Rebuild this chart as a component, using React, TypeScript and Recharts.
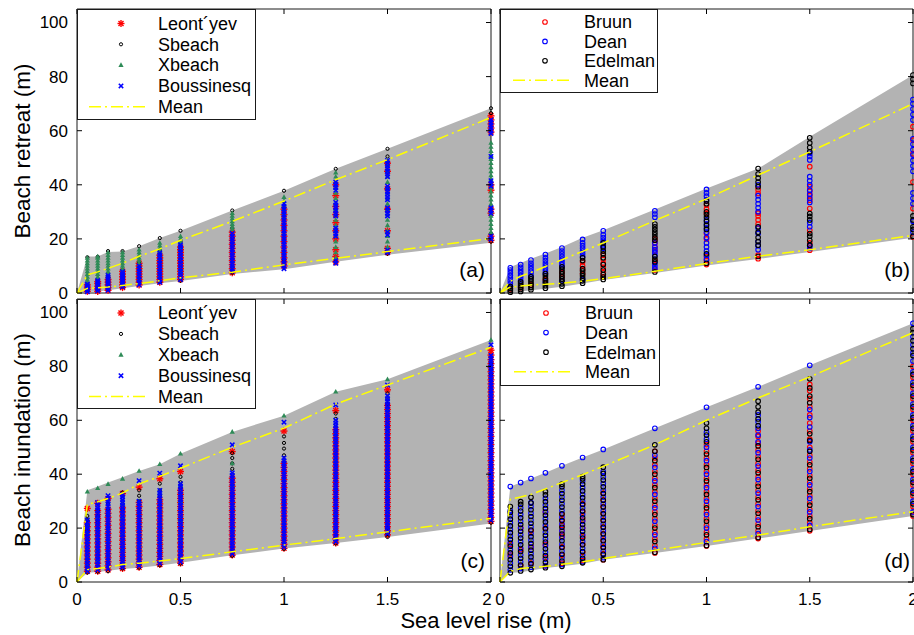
import React from "react";
import { Area, ComposedChart, Line, ReferenceArea, Scatter, XAxis, YAxis } from "recharts";

const FONT = '"Liberation Sans", Arial, Helvetica, sans-serif';
const RED = "#ff0000";
const BLUE = "#0000ff";
const GREEN = "#2e8b57";
const BLACK = "#000000";
const YELLOW = "#ffff00";
const GREY = "#b3b3b3";
const MEAN_DASH = "12 4 2 4";

// sea level rise scenarios (m)
const SLR = [0.05, 0.1, 0.15, 0.22, 0.3, 0.4, 0.5, 0.75, 1, 1.25, 1.5, 2];
const BAND_SLR = [0, ...SLR];
const X_TICKS = [0, 0.5, 1, 1.5, 2];
const Y_TICKS = [0, 20, 40, 60, 80, 100];

// (a) beach retreat, process models
const A_HIGH = [0, 13.5, 13.5, 15.2, 15.3, 17.3, 20.3, 23, 30.5, 37.8, 45.9, 53.3, 68.3];
const A_LOW = [0, 0.4, 0.6, 1, 1.8, 2.6, 3.6, 4.4, 7, 8.8, 11.6, 14.1, 18.6];
const A_MEAN_HI = [0, 6.7, 7.8, 9.1, 11, 13.6, 16.3, 19.5, 26.5, 34, 41.9, 49.3, 64.9];
const A_MEAN_LO = [0, 1.7, 1.9, 2.2, 2.8, 3.5, 4.5, 5.6, 7.7, 10.4, 12.8, 15.3, 20.2];

const A_LEONTYEV = [
  [0.6, 1.4, 2.2, 3],
  [0.6, 1.5, 2.5, 3.5, 4.2],
  [1, 2, 3, 4, 5],
  [2, 3, 4, 5, 6, 7, 8],
  [3, 4, 5, 6, 7, 8, 9, 10, 11],
  [4, 5, 6, 7, 8, 9, 10, 11, 12, 13, 14],
  [5, 6, 7, 8, 9, 10, 11, 12, 13, 14, 15, 16, 17],
  [7.5, 9, 10.5, 12, 13.5, 15, 16.5, 18, 19.5, 21, 22.5],
  [10, 11.5, 13, 15, 17, 19, 21, 23, 25, 27, 29, 31],
  [11.5, 13.5, 16, 20, 23, 26, 29, 32, 36, 40],
  [15, 16.5, 23, 31, 38.5, 45, 48],
  [19.5, 21, 29.5, 31, 38, 40, 59.5, 61, 62.5, 64, 65.5],
];
const A_SBEACH = [
  [0.8, 2, 13.2],
  [1, 13.4],
  [1.5, 6, 15.5],
  [2.5, 8.5, 15.5],
  [3.5, 11.5, 17.3],
  [4, 15.5, 20.3],
  [4.5, 19, 23],
  [7.5, 24, 30.5],
  [11.5, 12.5, 37.8],
  [11.5, 45.9],
  [14.5, 50.5, 53.3],
  [19, 22, 66.5, 68.3],
];
const A_XBEACH = [
  [1.5, 3, 4, 5, 6, 7, 8, 9, 10, 11, 12, 13],
  [2, 3.5, 5, 6, 7, 8, 9, 10, 11, 12, 13, 13.5],
  [3, 4.5, 6, 7, 8, 9, 10, 11, 12, 13, 14, 15],
  [4, 6, 7, 8, 9, 10, 11, 12, 13, 14, 15],
  [5, 10, 11, 12, 13, 14, 15, 16],
  [6, 13, 14.5, 15.5, 16.5, 17.5, 18.5],
  [8, 16, 17, 18, 19, 20, 21],
  [10, 23.5, 24.5, 25.5, 26.5, 27.5, 28.5, 29.5],
  [15, 22, 28, 29.5, 31, 32.5, 34, 35.5],
  [13, 15, 17, 19, 21, 23, 25, 27, 29, 31, 33, 35, 37, 39, 41, 43, 44.5],
  [17, 19, 21, 23, 25, 27, 29, 31, 33, 35, 37, 39, 41, 43, 45, 47, 49],
  [22.5, 24, 25.5, 27, 28.5, 30, 31.5, 33, 34.5, 36, 37.5, 39, 40.5, 42, 43.5, 45, 46.5, 48, 49.5, 51, 52.5, 54, 55.5],
];
const A_BOUSSINESQ = [
  [0.5, 1.2, 1.9, 2.6, 3.3],
  [0.8, 1.6, 2.4, 3.2, 4, 4.6],
  [1, 1.8, 2.6, 3.4, 4.2, 5, 5.8, 6.5],
  [2.3, 3.1, 3.9, 4.7, 5.5, 6.3, 7.1, 7.9],
  [3, 4, 5, 6, 7, 8, 9, 10],
  [4, 5, 6, 7, 8, 9, 10, 11, 12, 13, 14, 14.8],
  [5, 6, 7, 8, 9, 10, 11, 12, 13, 14, 15, 16, 17, 17.8],
  [8, 9, 10, 11, 12, 13, 14, 15, 16, 17, 18, 19, 20, 21, 22],
  [9, 10, 11, 12, 13, 14, 15, 16, 17, 18, 19, 20, 21, 22, 23, 24, 25, 26, 27, 28, 29, 30, 31, 32, 33],
  [11, 12, 21, 22, 23, 24, 28.5, 29.5, 30.5, 31.5, 32.5, 33.5, 38, 39, 40, 41],
  [15, 15.8, 21.5, 22.5, 28.5, 29.5, 30.5, 31.5, 34.5, 35.5, 36.5, 37.5, 38.5, 39.5, 43, 44, 45, 46, 47, 48, 49],
  [20, 21, 29.5, 30.5, 31.5, 39.5, 40.5, 41.5, 50.5, 59, 60, 61, 62, 63, 64],
];

// (b) beach retreat, equilibrium models
const B_HIGH = [0, 9.6, 11.1, 12.7, 14.6, 17, 20.4, 23.2, 30.9, 38.6, 46, 57.8, 80.6];
const B_LOW = [0, 0.3, 0.6, 1, 1.6, 2.3, 3.5, 4.8, 7.4, 10.2, 12.6, 15.2, 20.4];
const B_MEAN_HI = [0, 4.3, 6.2, 7.6, 9.8, 12.3, 15.4, 18.5, 26.8, 34.8, 43.6, 52.2, 70];
const B_MEAN_LO = [0, 2.2, 2.6, 3, 3.2, 3.6, 4.4, 5.3, 8, 10.9, 13.6, 16, 21.3];

const B_BRUUN = [
  [1.5],
  [2],
  [3],
  [5],
  [6, 7.5],
  [7, 8.5, 10, 11.5],
  [6, 7.5, 9.5, 11, 12.5, 14],
  [8.5, 12, 15.5, 17, 18.5, 20],
  [10.5, 12, 13.5, 20, 22, 29.5, 31, 32.5],
  [12.7, 14, 25.5, 27, 28.5, 29.5, 36.8, 38.2],
  [15.8, 18.5, 23.2, 31.2, 34.3, 36, 37.6, 39.3, 46.7],
  [20.7, 31.2, 41, 51.5, 56.5, 61.5],
];
const B_DEAN = [
  [2.5, 3.5, 4.5, 5.5, 6.5, 7.5, 8.5, 9.3],
  [4.5, 5.5, 6.5, 7.5, 8.5, 9.5, 10.5],
  [6, 7, 8, 9, 10, 11, 12.2],
  [4, 7, 8, 9, 10, 11, 12, 13, 14.2],
  [4.5, 9.5, 10.5, 11.5, 12.5, 13.5, 14.5, 15.5, 16.6],
  [5, 13.5, 14.5, 15.5, 16.5, 17.5, 18.5, 19.8],
  [16.5, 17.5, 18.5, 19.5, 20.5, 21.5, 23],
  [9, 10, 11, 14, 15, 16, 17, 18.5, 28, 29.2, 30.4],
  [12.5, 14, 15.5, 17, 18.5, 20.5, 22.5, 24, 25.5, 27, 34.5, 35.8, 37, 38.3],
  [16, 17.5, 19, 22, 24, 30, 31.5, 33, 34.5, 36, 40],
  [16.5, 17.5, 24.5, 26, 33.5, 35, 36.5, 38, 40, 41.5, 43, 49.2, 50.5, 51.6],
  [22.5, 26.5, 33, 35, 37, 45, 47, 49, 51, 53, 55, 57, 64, 66, 68, 70, 71.5],
];
const B_EDELMAN = [
  [0.3, 1, 1.7, 2.4],
  [0.6, 1.3, 2, 2.7, 3.4, 4.1],
  [1.2, 2, 2.8, 3.6, 4.4, 5.2, 6],
  [1.8, 2.7, 3.6, 4.5, 5.4, 6.3, 7.2],
  [2.5, 3.4, 4.3, 5.2, 6.1, 7, 7.9, 8.8, 9.7],
  [3.6, 4.5, 5.4, 6.3, 7.2, 8.1, 9, 12, 13],
  [5, 5.9, 6.8, 8.5, 10.5, 13, 14.5, 15.5, 17, 18.5],
  [7.8, 11.5, 12.5, 13.5, 19.5, 20.5, 21.5, 22.5, 23.5, 24.5, 25.5],
  [11, 14.5, 23.5, 25, 26.5, 28, 29, 30, 33, 34],
  [13.5, 17.7, 19, 20.5, 22.5, 24.5, 39.3, 41, 42.5, 44, 46],
  [17.7, 19.5, 21, 22, 27, 28.3, 29.4, 52.2, 53.8, 55.5, 57.4],
  [21, 23.5, 24.5, 27, 28.5, 77.5, 79, 80.6],
];

// (c) beach inundation, process models
const C_HIGH = [0, 34, 35.4, 36.9, 38.9, 41.2, 43.7, 47.6, 55.7, 61.7, 70.6, 75.2, 89.8];
const C_LOW = [0, 3.4, 3.7, 4.2, 4.8, 5.3, 6.1, 7.1, 9.9, 12.4, 14.5, 16.7, 21.7];
const C_MEAN_HI = [0, 28.8, 29.8, 31, 33, 36.4, 39.2, 42.2, 50, 57.1, 66, 73.1, 87.1];
const C_MEAN_LO = [0, 4.6, 5, 5.5, 6.5, 7, 7.8, 8.7, 11.2, 13.7, 16.1, 18.6, 23.6];

const C_LEONTYEV = [
  [4, 5.5, 7, 8.5, 10, 11.5, 13, 14.5, 16, 17.5, 19, 20.5, 22, 27.3],
  [4, 5.5, 7, 8.5, 10, 11.5, 13, 14.5, 16, 17.5, 19, 20.5, 22, 23.5, 25, 26.5, 29.2],
  [4.5, 6, 7.5, 9, 10.5, 12, 13.5, 15, 16.5, 18, 19.5, 21, 22.5, 24, 25.5, 27, 31],
  [5, 6.5, 8, 9.5, 11, 12.5, 14, 15.5, 17, 18.5, 20, 21.5, 23, 24.5, 26, 27.5, 32.8],
  [5.5, 7, 8.5, 10, 11.5, 13, 14.5, 16, 17.5, 19, 20.5, 22, 23.5, 25, 26.5, 28, 29.5, 35.2],
  [6.5, 8, 9.5, 11, 12.5, 14, 15.5, 17, 18.5, 20, 21.5, 23, 24.5, 26, 27.5, 29, 30.5, 38.3],
  [7, 8.5, 10, 11.5, 13, 14.5, 16, 17.5, 19, 20.5, 22, 23.5, 25, 26.5, 28, 29.5, 31, 32.5, 34, 41],
  [10, 11.5, 13, 14.5, 16, 17.5, 19, 20.5, 22, 23.5, 25, 26.5, 28, 29.5, 31, 32.5, 34, 35.5, 37, 38.5, 48.4],
  [12.5, 14, 15.5, 17, 18.5, 20, 21.5, 23, 24.5, 26, 27.5, 29, 30.5, 32, 33.5, 35, 36.5, 38, 39.5, 41, 42.5, 44, 56],
  [14.5, 16, 17.5, 19, 20.5, 22, 23.5, 25, 26.5, 28, 29.5, 31, 32.5, 34, 35.5, 37, 38.5, 40, 41.5, 43, 44.5, 46, 47.5, 49, 50.5, 52, 53.5, 55, 56.5, 63.6],
  [17.5, 19, 20.5, 22, 23.5, 25, 26.5, 28, 29.5, 31, 32.5, 34, 35.5, 37, 38.5, 40, 41.5, 43, 44.5, 46, 47.5, 49, 50.5, 52, 53.5, 55, 56.5, 58, 59.5, 61, 62.5, 64, 65.5, 71.3],
  [22.5, 24, 25.5, 27, 28.5, 30, 31.5, 33, 34.5, 36, 37.5, 39, 40.5, 42, 43.5, 45, 46.5, 48, 49.5, 51, 52.5, 54, 55.5, 57, 58.5, 60, 61.5, 63, 64.5, 66, 67.5, 69, 70.5, 72, 73.5, 75, 76.5, 78, 79.5, 81, 82.5, 84.2, 86],
];
const C_SBEACH = [
  [3.5, 19, 21, 23, 24.5],
  [3.8, 22, 24.5, 26.5],
  [4, 25, 27, 29],
  [5, 27, 29, 31, 33.2],
  [5.3, 30, 32, 34],
  [6.2, 32, 34, 36.5],
  [6.8, 35, 37, 39],
  [9.7, 40, 42, 44, 46, 47.8],
  [12.3, 47, 49.5, 51.6, 54],
  [14.3, 58.5, 60.5, 62.5],
  [16.7, 18, 20, 66, 68, 70],
  [22, 23.5, 77, 79, 81],
];
const C_XBEACH = [
  [6, 9, 12, 15, 18, 21, 33.5],
  [8, 12, 16, 20, 24, 34.8],
  [10, 15, 20, 25, 36.3],
  [12, 18, 24, 29, 38.3],
  [14, 20, 26, 30, 41.2],
  [15, 21, 27, 33, 43.7],
  [16, 23, 30, 36, 47.6],
  [20, 28, 36, 44, 55.7],
  [22, 30, 38, 45, 61.7],
  [25, 35, 45, 55, 70.6],
  [26, 36, 46, 56, 64, 75.2],
  [30, 40, 50, 60, 70, 80, 89.8],
];
const C_BOUSSINESQ = [
  [4, 5, 6, 7, 8, 9, 10, 11, 12, 13, 14, 15, 16, 17, 18, 19, 20, 21, 22, 23],
  [4.5, 5.5, 6.5, 7.5, 8.5, 9.5, 10.5, 11.5, 12.5, 13.5, 14.5, 15.5, 16.5, 17.5, 18.5, 19.5, 20.5, 21.5, 22.5, 23.5, 24.5, 25.5, 26.5, 27.5, 28.5, 29.5],
  [5, 6, 7, 8, 9, 10, 11, 12, 13, 14, 15, 16, 17, 18, 19, 20, 21, 22, 23, 24, 25, 26, 27, 28, 29, 30, 31, 32],
  [5.5, 6.5, 7.5, 8.5, 9.5, 10.5, 11.5, 12.5, 13.5, 14.5, 15.5, 16.5, 17.5, 18.5, 19.5, 20.5, 21.5, 22.5, 23.5, 24.5, 25.5, 26.5, 27.5, 28.5, 29.5, 30.5, 31.5, 32.5],
  [6, 7, 8, 9, 10, 11, 12, 13, 14, 15, 16, 17, 18, 19, 20, 21, 22, 23, 24, 25, 26, 27, 28, 29, 30, 37.6],
  [7, 8, 9, 10, 11, 12, 13, 14, 15, 16, 17, 18, 19, 20, 21, 22, 23, 24, 25, 26, 27, 28, 29, 30, 31, 32, 33, 34, 40.4],
  [7.5, 8.5, 9.5, 10.5, 11.5, 12.5, 13.5, 14.5, 15.5, 16.5, 17.5, 18.5, 19.5, 20.5, 21.5, 22.5, 23.5, 24.5, 25.5, 26.5, 27.5, 28.5, 29.5, 30.5, 31.5, 32.5, 33.5, 34.5, 35.5, 36.5, 43.1],
  [10.5, 11.5, 12.5, 13.5, 14.5, 15.5, 16.5, 17.5, 18.5, 19.5, 20.5, 21.5, 22.5, 23.5, 24.5, 25.5, 26.5, 27.5, 28.5, 29.5, 30.5, 31.5, 32.5, 33.5, 34.5, 35.5, 36.5, 37.5, 38.5, 39.5, 40.5, 50.9],
  [13, 14, 15, 16, 17, 18, 19, 20, 21, 22, 23, 24, 25, 26, 27, 28, 29, 30, 31, 32, 33, 34, 35, 36, 37, 38, 39, 40, 41, 42, 43, 44, 45, 46, 59.3],
  [15, 16, 17, 18, 19, 20, 21, 22, 23, 24, 25, 26, 27, 28, 29, 30, 31, 32, 33, 34, 35, 36, 37, 38, 39, 40, 41, 42, 43, 44, 45, 46, 47, 48, 49, 50, 51, 52, 53, 54, 55, 56, 57, 58, 59, 60, 65.7],
  [18, 19, 20, 21, 22, 23, 24, 25, 26, 27, 28, 29, 30, 31, 32, 33, 34, 35, 36, 37, 38, 39, 40, 41, 42, 43, 44, 45, 46, 47, 48, 49, 50, 51, 52, 53, 54, 55, 56, 57, 58, 59, 60, 61, 62, 63, 64, 65, 66, 67, 68, 69, 73.1],
  [23, 24, 25, 26, 27, 28, 29, 30, 31, 32, 33, 34, 35, 36, 37, 38, 39, 40, 41, 42, 43, 44, 45, 46, 47, 48, 49, 50, 51, 52, 53, 54, 55, 56, 57, 58, 59, 60, 61, 62, 63, 64, 65, 66, 67, 68, 69, 70, 71, 72, 73, 74, 75, 76, 77, 78, 79, 80, 81, 82, 83, 84, 88],
];

// (d) beach inundation, equilibrium models
const D_HIGH = [0, 35.4, 36.9, 38.4, 40.5, 43.1, 46.2, 49.2, 57, 64.8, 72.4, 80.4, 96];
const D_LOW = [0, 3.4, 3.6, 4.3, 5.2, 5.8, 6.8, 8.3, 10.8, 13.4, 16.1, 18.9, 24.5];
const D_MEAN_HI = [0, 30.7, 31.5, 32.5, 34.5, 36.9, 39.8, 42.9, 50.9, 60, 68.3, 76.1, 92.5];
const D_MEAN_LO = [0, 4, 5, 5.3, 5.8, 6.6, 7.5, 8.7, 11.8, 14.7, 17.4, 20.5, 26.1];

const D_BRUUN = [
  [10, 14],
  [6, 12, 20],
  [7, 13, 19],
  [6, 9, 14, 20, 26],
  [7, 10, 13, 17, 19, 21, 23, 25],
  [8, 11, 14, 17, 20, 23, 26, 29],
  [8.3, 10.5, 13, 15.5, 18, 20.5, 23, 25.5, 28, 30.5, 33],
  [10.8, 13.5, 16, 18.5, 21, 23.5, 26, 28.5, 31, 33.5, 36, 38.5, 41, 43.5, 46, 48.5],
  [13.4, 16, 18.5, 21, 23.5, 26, 28.5, 31, 33.5, 36, 38.5, 41, 43.5, 46, 48.5, 51],
  [16.1, 19, 21.5, 24, 26.5, 29, 31.5, 34, 36.5, 39, 41.5, 44, 46.5, 49, 51.5, 54, 56],
  [19, 22, 24.5, 27, 29.5, 32, 34.5, 37, 39.5, 42, 44.5, 47, 50, 53, 56, 59, 62, 65, 68, 71, 73.3],
  [24.5, 28, 32, 36, 40, 44, 48, 52, 56, 60, 64, 68, 72, 76, 80],
];
const D_DEAN = [
  [4.5, 7, 9.5, 12, 14.5, 17, 19.5, 22, 24.5, 26.5, 35.4],
  [5, 7.5, 10, 12.5, 15, 17.5, 20, 22.5, 25, 27.5, 36.9],
  [5.5, 8, 10.5, 13, 15.5, 18, 20.5, 23, 25.5, 28, 29.5, 38.4],
  [6, 8.5, 11, 13.5, 16, 18.5, 21, 23.5, 26, 28.5, 31, 40.5],
  [6.5, 9, 11.5, 14, 16.5, 19, 21.5, 24, 26.5, 29, 31.5, 34, 43.1],
  [7.5, 10, 12.5, 15, 17.5, 20, 22.5, 25, 27.5, 30, 32.5, 35, 37.5, 46.2],
  [9, 11.5, 14, 16.5, 19, 21.5, 24, 26.5, 29, 31.5, 34, 36.5, 39, 41, 49.2],
  [12.5, 17.5, 22.5, 27.5, 32.5, 37.5, 42.5, 47, 57],
  [15, 20, 25, 30, 35, 40, 45, 50, 53, 55.5, 64.8],
  [18, 23, 28, 33, 38, 43, 48, 52, 54.5, 57, 59.5, 62, 72.4],
  [21, 26, 31, 36, 41, 46, 49, 52, 57.5, 61, 64, 80.4],
  [26, 30, 34, 38, 42, 46, 50, 54, 58, 62, 66, 70, 74, 78, 82, 85, 88, 91, 96],
];
const D_EDELMAN = [
  [3.4, 5.8, 8.3, 10.8, 13.3, 15.8, 18.3, 20.8, 23.3, 25.8, 28],
  [4.1, 6.3, 8.8, 11.3, 13.8, 16.3, 18.8, 21.3, 23.8, 26.3, 28.8, 29.8],
  [4.6, 6.8, 9.3, 11.8, 14.3, 16.8, 19.3, 21.8, 24.3, 26.8, 29.3, 31.4],
  [5.3, 7.3, 9.8, 12.3, 14.8, 17.3, 19.8, 22.3, 24.8, 27.3, 29.8, 32.3, 33.5],
  [5.8, 7.8, 10.3, 12.8, 15.3, 17.8, 20.3, 22.8, 25.3, 27.8, 30.3, 32.8, 35.3, 36.3],
  [7.1, 8.8, 11.3, 13.8, 16.3, 18.8, 21.3, 23.8, 26.3, 28.8, 31.3, 33.8, 36.3, 38.3, 39.1],
  [8.3, 10.3, 12.8, 15.3, 17.8, 20.3, 22.8, 25.3, 27.8, 30.3, 32.8, 35.3, 37.8, 40.3, 42.6],
  [11, 15, 20, 25, 30, 35, 40, 45, 48.5, 50.9],
  [13.5, 17.5, 22.5, 27.5, 32.5, 37.5, 42.5, 47.5, 52, 54.5, 57, 59],
  [16.5, 20.5, 25.5, 30.5, 35.5, 40.5, 45.5, 50.5, 58, 60.5, 63, 65, 67.1],
  [19.5, 23.5, 28.5, 33.5, 38.5, 43.5, 48.5, 52.5, 55, 66.5, 69, 72, 75.4],
  [25, 29, 33, 37, 41, 45, 49, 53, 57, 61, 65, 69, 73, 77, 84, 86.5, 89.5, 92.5, 94],
];

type Mark = { cx?: number; cy?: number };

function StarMark({ cx = 0, cy = 0 }: Mark) {
  const r = 3.5;
  const d = 2.5;
  return (
    <g stroke={RED} strokeWidth={1.4}>
      <line x1={cx - r} y1={cy} x2={cx + r} y2={cy} />
      <line x1={cx} y1={cy - r} x2={cx} y2={cy + r} />
      <line x1={cx - d} y1={cy - d} x2={cx + d} y2={cy + d} />
      <line x1={cx - d} y1={cy + d} x2={cx + d} y2={cy - d} />
    </g>
  );
}

function DotMark({ cx = 0, cy = 0 }: Mark) {
  return <circle cx={cx} cy={cy} r={1.6} fill="none" stroke={BLACK} strokeWidth={1} />;
}

function TriMark({ cx = 0, cy = 0 }: Mark) {
  return <polygon points={`${cx},${cy - 2.8} ${cx - 2.6},${cy + 1.9} ${cx + 2.6},${cy + 1.9}`} fill={GREEN} />;
}

function CrossMark({ cx = 0, cy = 0 }: Mark) {
  const r = 2.2;
  return (
    <g stroke={BLUE} strokeWidth={1.5}>
      <line x1={cx - r} y1={cy - r} x2={cx + r} y2={cy + r} />
      <line x1={cx - r} y1={cy + r} x2={cx + r} y2={cy - r} />
    </g>
  );
}

const ringMark = (color: string) =>
  function RingMark({ cx = 0, cy = 0 }: Mark) {
    return <circle cx={cx} cy={cy} r={2.3} fill="none" stroke={color} strokeWidth={1.1} />;
  };
const RedRing = ringMark(RED);
const BlueRing = ringMark(BLUE);
const BlackRing = ringMark(BLACK);

type Series = { name: string; cols: number[][]; mark: (p: Mark) => React.ReactElement };

const toPoints = (cols: number[][]) => cols.flatMap((ys, i) => ys.map((y) => ({ x: SLR[i], y })));

type PanelProps = {
  left: number;
  top: number;
  plotW: number;
  plotH: number;
  high: number[];
  low: number[];
  meanHi: number[];
  meanLo: number[];
  series: Series[];
  xLabels: boolean;
  yLabels: boolean;
  lastLabelShift?: number;
};

const AXIS_W = 60;
const PAD_T = 5;

function Panel({ left, top, plotW, plotH, high, low, meanHi, meanLo, series, xLabels, yLabels, lastLabelShift = 0 }: PanelProps) {
  const data = BAND_SLR.map((x, i) => ({ x, band: [low[i], high[i]], hi: meanHi[i], lo: meanLo[i] }));

  const xTick = (p: any) => {
    // the "2" of the left panel sits a little left so it does not run into the "0" next door
    const shift = p.payload.value === 2 ? lastLabelShift : 0;
    return (
      <g>
        <line x1={p.x} y1={p.y} x2={p.x} y2={p.y - 5} stroke={BLACK} />
        <line x1={p.x} y1={p.y - plotH} x2={p.x} y2={p.y - plotH + 5} stroke={BLACK} />
        {xLabels && (
          <text x={p.x + shift} y={p.y + 23} textAnchor="middle" fontSize={17} fontFamily={FONT} fill={BLACK}>
            {String(p.payload.value)}
          </text>
        )}
      </g>
    );
  };

  const yTick = (p: any) => (
    <g>
      <line x1={p.x} y1={p.y} x2={p.x + 5} y2={p.y} stroke={BLACK} />
      <line x1={p.x + plotW} y1={p.y} x2={p.x + plotW - 5} y2={p.y} stroke={BLACK} />
      {yLabels && (
        <text x={p.x - 9} y={p.y} dy="0.35em" textAnchor="end" fontSize={17} fontFamily={FONT} fill={BLACK}>
          {String(p.payload.value)}
        </text>
      )}
    </g>
  );

  return (
    <div style={{ position: "absolute", left: left - AXIS_W, top: top - PAD_T }}>
      <ComposedChart
        width={AXIS_W + plotW + 20}
        height={PAD_T + plotH + 40}
        data={data}
        margin={{ top: PAD_T, right: 20, bottom: 0, left: 0 }}
      >
        <XAxis
          dataKey="x"
          type="number"
          domain={[0, 2]}
          ticks={X_TICKS}
          interval={0}
          tickSize={0}
          tickMargin={0}
          axisLine={false}
          tickLine={false}
          height={40}
          tick={xTick}
        />
        <YAxis
          type="number"
          domain={[0, 105]}
          ticks={Y_TICKS}
          interval={0}
          tickSize={0}
          tickMargin={0}
          axisLine={false}
          tickLine={false}
          width={AXIS_W}
          tick={yTick}
        />
        <Area dataKey="band" type="linear" fill={GREY} fillOpacity={1} stroke="none" isAnimationActive={false} />
        {series.map((s) => (
          <Scatter
            key={s.name}
            name={s.name}
            data={toPoints(s.cols)}
            dataKey="y"
            shape={(p: any) => s.mark(p)}
            isAnimationActive={false}
          />
        ))}
        <Line dataKey="hi" type="linear" stroke={YELLOW} strokeWidth={1.5} strokeDasharray={MEAN_DASH} dot={false} isAnimationActive={false} zIndex={700} />
        <Line dataKey="lo" type="linear" stroke={YELLOW} strokeWidth={1.5} strokeDasharray={MEAN_DASH} dot={false} isAnimationActive={false} zIndex={700} />
        <ReferenceArea x1={0} x2={2} y1={0} y2={105} fill="none" stroke="#1a1a1a" strokeWidth={1} />
      </ComposedChart>
    </div>
  );
}

type LegendProps = {
  left: number;
  top: number;
  width: number;
  height: number;
  rowTop: number;
  rowGap: number;
  markX: number;
  textX: number;
  series: Series[];
};

function LegendBox({ left, top, width, height, rowTop, rowGap, markX, textX, series }: LegendProps) {
  const meanY = rowTop + series.length * rowGap;
  return (
    <svg style={{ position: "absolute", left, top }} width={width} height={height}>
      <rect x={0.5} y={0.5} width={width - 1} height={height - 1} fill="#fff" stroke="#1a1a1a" />
      {series.map((s, i) => {
        const y = rowTop + i * rowGap;
        return (
          <g key={s.name}>
            {s.mark({ cx: markX, cy: y })}
            <text x={textX} y={y} dy="0.35em" fontSize={18} fontFamily={FONT} fill={BLACK}>
              {s.name}
            </text>
          </g>
        );
      })}
      <line x1={markX - 32} x2={markX + 28} y1={meanY} y2={meanY} stroke={YELLOW} strokeWidth={1.5} strokeDasharray={MEAN_DASH} />
      <text x={textX} y={meanY} dy="0.35em" fontSize={18} fontFamily={FONT} fill={BLACK}>
        Mean
      </text>
    </svg>
  );
}

export default function App() {
  const processA: Series[] = [
    { name: "Leont\u00b4yev", cols: A_LEONTYEV, mark: StarMark },
    { name: "Sbeach", cols: A_SBEACH, mark: DotMark },
    { name: "Xbeach", cols: A_XBEACH, mark: TriMark },
    { name: "Boussinesq", cols: A_BOUSSINESQ, mark: CrossMark },
  ];
  const processC: Series[] = [
    { name: "Leont\u00b4yev", cols: C_LEONTYEV, mark: StarMark },
    { name: "Sbeach", cols: C_SBEACH, mark: DotMark },
    { name: "Xbeach", cols: C_XBEACH, mark: TriMark },
    { name: "Boussinesq", cols: C_BOUSSINESQ, mark: CrossMark },
  ];
  const equilB: Series[] = [
    { name: "Bruun", cols: B_BRUUN, mark: RedRing },
    { name: "Dean", cols: B_DEAN, mark: BlueRing },
    { name: "Edelman", cols: B_EDELMAN, mark: BlackRing },
  ];
  const equilD: Series[] = [
    { name: "Bruun", cols: D_BRUUN, mark: RedRing },
    { name: "Dean", cols: D_DEAN, mark: BlueRing },
    { name: "Edelman", cols: D_EDELMAN, mark: BlackRing },
  ];

  return (
    <div
      style={{
        position: "absolute",
        left: 0,
        top: 0,
        width: 914,
        height: 635,
        overflow: "hidden",
        background: "#fff",
        fontFamily: FONT,
      }}
    >
      <Panel left={77} top={9} plotW={414} plotH={284} high={A_HIGH} low={A_LOW} meanHi={A_MEAN_HI} meanLo={A_MEAN_LO} series={processA} xLabels={false} yLabels />
      <Panel left={500} top={9} plotW={413} plotH={284} high={B_HIGH} low={B_LOW} meanHi={B_MEAN_HI} meanLo={B_MEAN_LO} series={equilB} xLabels={false} yLabels={false} />
      <Panel left={77} top={299} plotW={414} plotH={283} high={C_HIGH} low={C_LOW} meanHi={C_MEAN_HI} meanLo={C_MEAN_LO} series={processC} xLabels yLabels lastLabelShift={-4} />
      <Panel left={500} top={299} plotW={413} plotH={283} high={D_HIGH} low={D_LOW} meanHi={D_MEAN_HI} meanLo={D_MEAN_LO} series={equilD} xLabels yLabels={false} />

      <LegendBox left={77} top={9} width={179} height={111} rowTop={14.5} rowGap={20.8} markX={44} textX={81} series={processA} />
      <LegendBox left={500} top={9} width={158} height={84} rowTop={13} rowGap={19.4} markX={45} textX={84} series={equilB} />
      <LegendBox left={77} top={299} width={179} height={110} rowTop={14} rowGap={20.9} markX={44} textX={81} series={processC} />
      <LegendBox left={500} top={299} width={160} height={87} rowTop={14} rowGap={19.6} markX={46} textX={85} series={equilD} />

      <svg style={{ position: "absolute", left: 0, top: 0, pointerEvents: "none" }} width={914} height={635}>
        <text x={30} y={151} transform="rotate(-90 30 151)" textAnchor="middle" fontSize={22.5} fontFamily={FONT} fill={BLACK}>
          Beach retreat (m)
        </text>
        <text x={30} y={440} transform="rotate(-90 30 440)" textAnchor="middle" fontSize={22.5} fontFamily={FONT} fill={BLACK}>
          Beach inundation (m)
        </text>
        <text x={486} y={628} textAnchor="middle" fontSize={22} fontFamily={FONT} fill={BLACK}>
          Sea level rise (m)
        </text>
        <text x={485} y={277} textAnchor="end" fontSize={21} fontFamily={FONT} fill={BLACK}>(a)</text>
        <text x={910} y={277} textAnchor="end" fontSize={21} fontFamily={FONT} fill={BLACK}>(b)</text>
        <text x={485} y={568} textAnchor="end" fontSize={21} fontFamily={FONT} fill={BLACK}>(c)</text>
        <text x={910} y={568} textAnchor="end" fontSize={21} fontFamily={FONT} fill={BLACK}>(d)</text>
      </svg>
    </div>
  );
}
